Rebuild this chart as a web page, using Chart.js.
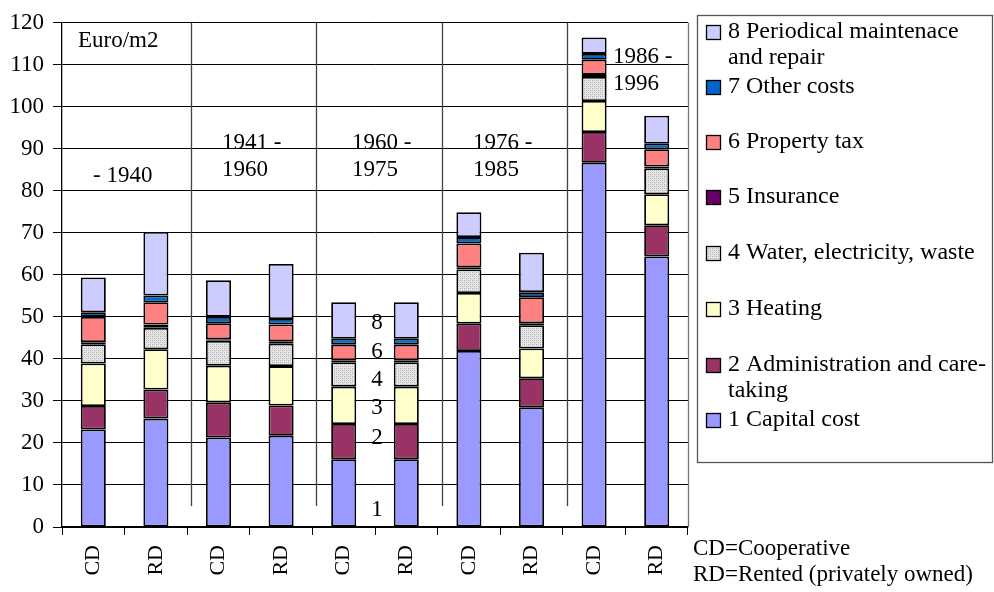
<!DOCTYPE html>
<html>
<head>
<meta charset="utf-8">
<title>Housing costs</title>
<script src="https://cdn.jsdelivr.net/npm/chart.js@4"></script>
<style>
  html, body { margin: 0; padding: 0; background: #fff; }
  #wrap { width: 994px; height: 592px; position: relative; }
</style>
</head>
<body>
<div id="wrap"><canvas id="grafico" width="994" height="592"></canvas></div>
<script>
// categorias e valores (Euro/m2)
const categorias = ['CD', 'RD', 'CD', 'RD', 'CD', 'RD', 'CD', 'RD', 'CD', 'RD'];
const periodos = [['- 1940'], ['1941 -', '1960'], ['1960 -', '1975'], ['1976 -', '1985'], ['1986 -', '1996']];
const yTicks = [0, 10, 20, 30, 40, 50, 60, 70, 80, 90, 100, 110, 120];

const capital = [23.2, 25.8, 21.3, 21.7, 16.1, 16.1, 41.9, 28.5, 86.7, 64.4];
const administracao = [5.6, 6.9, 8.3, 7.2, 8.4, 8.4, 6.5, 6.9, 7.3, 7.4];
const aquecimento = [10.1, 9.6, 8.8, 9.4, 8.9, 8.9, 7.3, 7.1, 7.4, 7.4];
const agua = [4.6, 5.1, 5.9, 5.3, 5.8, 5.8, 5.6, 5.5, 5.7, 6.2];
const seguro = [0.5, 0.8, 0.4, 0.6, 0.5, 0.5, 0.5, 0.5, 0.5, 0.4];
const imposto = [6.0, 5.3, 3.8, 4.0, 3.7, 3.7, 5.7, 6.2, 3.6, 4.1];
const outros = [1.1, 1.6, 1.5, 1.3, 1.4, 1.4, 1.5, 1.2, 1.4, 1.3];
const manutencao = [8.3, 15.1, 8.7, 13.1, 8.7, 8.7, 5.9, 9.4, 3.9, 6.7];

const nomesSerie = [
    ['1 Capital cost'],
    ['2 Administration and care-', 'taking'],
    ['3 Heating'],
    ['4 Water, electricity, waste'],
    ['5 Insurance'],
    ['6 Property tax'],
    ['7 Other costs'],
    ['8 Periodical maintenace', 'and repair']
];
const notas = ['CD=Cooperative', 'RD=Rented (privately owned)'];
const rotulosPilha = ['8', '6', '4', '3', '2', '1'];

const FONTE = '"Liberation Serif", "Times New Roman", serif';

// padrão pontilhado para "água, electricidade"
function padraoCinza() {
    const c = document.createElement('canvas');
    c.width = 4; c.height = 4;
    const g = c.getContext('2d');
    g.fillStyle = '#e4e4e4';
    g.fillRect(0, 0, 4, 4);
    g.fillStyle = '#b0b0b0';
    g.fillRect(0, 0, 1, 1);
    g.fillRect(2, 2, 1, 1);
    g.fillStyle = '#cbcbcb';
    g.fillRect(2, 0, 1, 1);
    g.fillRect(0, 2, 1, 1);
    return c.getContext('2d').createPattern(c, 'repeat');
}
const cinza = padraoCinza();

const cores = ['#9999ff', '#993366', '#ffffcc', cinza, '#660066', '#ff8080', '#0066cc', '#ccccff'];
const valores = [capital, administracao, aquecimento, agua, seguro, imposto, outros, manutencao];

const anotacoes = {
    id: 'anotacoes',
    afterDatasetsDraw(chart) {
        const ctx = chart.ctx;
        const area = chart.chartArea;
        const x = chart.scales.x;
        ctx.save();

        // separadores entre períodos
        ctx.strokeStyle = '#444';
        ctx.lineWidth = 1.3;
        [1, 3, 5, 7].forEach(i => {
            const px = Math.round((x.getPixelForValue(i) + x.getPixelForValue(i + 1)) / 2) + 4.5;
            ctx.beginPath();
            ctx.moveTo(px, area.top);
            ctx.lineTo(px, area.bottom - 21);
            ctx.stroke();
        });

        // borda direita
        ctx.strokeStyle = '#777';
        ctx.lineWidth = 1.3;
        ctx.beginPath();
        ctx.moveTo(area.right + 0.5, area.top);
        ctx.lineTo(area.right + 0.5, area.bottom);
        ctx.stroke();

        ctx.fillStyle = '#000';
        ctx.textBaseline = 'middle';
        ctx.font = '23px ' + FONTE;
        ctx.textAlign = 'left';
        ctx.fillText('Euro/m2', 78, 41);

        // rótulos dos períodos
        const pos = [[93, 176], [222, 143], [352, 143], [473, 143], [613, 57]];
        ctx.font = '23px ' + FONTE;
        periodos.forEach((linhas, k) => {
            linhas.forEach((t, j) => {
                ctx.fillText(t, pos[k][0], pos[k][1] + j * 27);
            });
        });

        // números das camadas
        const yy = [323, 352, 380, 408, 438, 510];
        ctx.textAlign = 'center';
        rotulosPilha.forEach((t, j) => ctx.fillText(t, 377, yy[j]));

        // legenda
        ctx.strokeStyle = '#555';
        ctx.lineWidth = 1.3;
        ctx.strokeRect(697.5, 15.5, 295, 447);
        const ly = [32, 87, 142, 197, 253, 309, 365, 420];
        ctx.textAlign = 'left';
        ctx.font = '24px ' + FONTE;
        for (let k = 0; k < 8; k++) {
            const s = 7 - k;
            ctx.fillStyle = cores[s];
            ctx.fillRect(706, ly[k] - 7, 15, 15);
            ctx.strokeStyle = '#000';
            ctx.lineWidth = 1.3;
            ctx.strokeRect(706.5, ly[k] - 6.5, 14, 14);
            ctx.fillStyle = '#000';
            nomesSerie[s].forEach((t, j) => ctx.fillText(t, 728, ly[k] + j * 26));
        }

        // notas de rodapé
        ctx.font = '23px ' + FONTE;
        notas.forEach((t, j) => ctx.fillText(t, 693, 549 + j * 26));
        ctx.restore();
    }
};

new Chart(document.getElementById('grafico'), {
    type: 'bar',
    data: {
        labels: categorias,
        datasets: valores.map((v, i) => ({
            label: nomesSerie[i].join(' '),
            data: v,
            backgroundColor: cores[i],
            borderColor: '#000',
            borderWidth: 1.8,
            borderSkipped: false,
            barPercentage: 0.4,
            categoryPercentage: 1
        }))
    },
    options: {
        responsive: false,
        animation: false,
        devicePixelRatio: 1,
        layout: { padding: { left: 0, right: 306, top: 20, bottom: 0 } },
        plugins: {
            legend: { display: false },
            title: { display: false },
            tooltip: { enabled: false }
        },
        scales: {
            x: {
                stacked: true,
                afterFit: s => { s.height = 65; },
                grid: { drawOnChartArea: false, drawTicks: true, tickLength: 8, color: '#000' },
                border: { color: '#000', width: 1.3 },
                ticks: {
                    minRotation: 90, maxRotation: 90, padding: 10,
                    color: '#000', font: { family: FONTE, size: 22 }
                }
            },
            y: {
                stacked: true,
                min: 0, max: 120,
                afterFit: s => { s.width = 62; },
                afterBuildTicks: s => { s.ticks = yTicks.map(v => ({ value: v })); },
                grid: { color: '#000', lineWidth: 1, tickLength: 9 },
                border: { color: '#000', width: 1.3 },
                ticks: { padding: 9, color: '#000', font: { family: FONTE, size: 23 } }
            }
        }
    },
    plugins: [anotacoes]
});
</script>
</body>
</html>
